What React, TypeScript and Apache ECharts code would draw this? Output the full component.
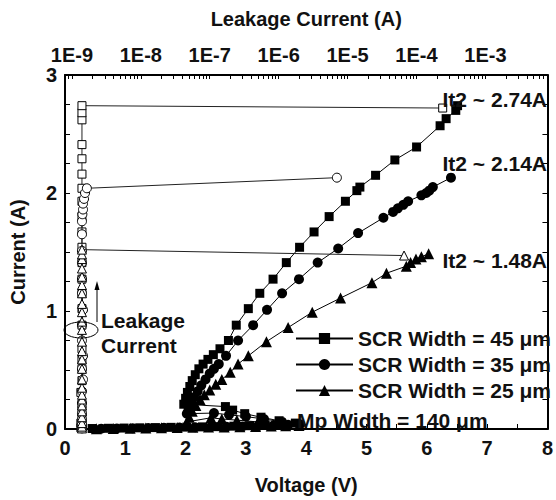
import React, { useEffect, useRef } from "react";
import * as echarts from "echarts";

// ---------- tick labels ----------
const voltageTicks = [0, 1, 2, 3, 4, 5, 6, 7, 8];
const currentTicks = [0, 1, 2, 3];
const leakageExponents = [-9, -8, -7, -6, -5, -4, -3];

// ---------- series names ----------
const seriesNames = ["SCR Width = 45 μm", "SCR Width = 35 μm", "SCR Width = 25 μm"];

// ---------- TLP I-V: SCR Width = 45 um ----------
const scr45Voltage = [
  0.45, 0.72, 0.98, 1.24, 1.5, 1.76, 2.02, 2.28, 2.54, 2.8, 3.06, 3.32, 3.58, 3.82,
  3.55, 3.25, 2.98, 2.78, 2.66,
  1.97, 2.0, 2.03, 2.07, 2.11, 2.16, 2.22, 2.29, 2.37, 2.46, 2.57, 2.71, 2.84, 3.04,
  3.23, 3.45, 3.67, 3.89, 4.13, 4.38, 4.65, 4.84, 4.89, 5.15, 5.47, 5.83, 6.22, 6.32,
  6.48, 6.51,
];
const scr45Current = [
  0.004, 0.006, 0.008, 0.01, 0.012, 0.014, 0.016, 0.018, 0.02, 0.024, 0.028, 0.034, 0.04, 0.05,
  0.07, 0.1, 0.13, 0.16, 0.19,
  0.21, 0.26, 0.31, 0.36, 0.41, 0.46, 0.51, 0.55, 0.59, 0.63, 0.68, 0.75, 0.88, 1.02,
  1.15, 1.27, 1.41, 1.54, 1.67, 1.8, 1.93, 2.02, 2.05, 2.15, 2.28, 2.39, 2.57, 2.63,
  2.7, 2.74,
];

// ---------- TLP I-V: SCR Width = 35 um ----------
const scr35Voltage = [
  0.6, 0.86, 1.12, 1.38, 1.64, 1.9, 2.16, 2.42, 2.68, 2.94, 3.2, 3.46, 3.7, 3.9,
  3.6, 3.3, 3.0, 2.72, 2.47,
  2.02, 2.05, 2.09, 2.14, 2.2, 2.26, 2.33, 2.4, 2.47, 2.55, 2.67, 2.87, 3.12, 3.35,
  3.6, 3.88, 4.19, 4.53, 4.86, 5.28, 5.44, 5.52, 5.61, 5.69, 5.91, 5.99, 6.04, 6.1,
  6.4,
];
const scr35Current = [
  0.003, 0.005, 0.007, 0.009, 0.011, 0.013, 0.015, 0.017, 0.019, 0.022, 0.025, 0.03, 0.035, 0.04,
  0.06, 0.085, 0.105, 0.12, 0.135,
  0.13, 0.17, 0.22, 0.27, 0.32, 0.37, 0.42, 0.47, 0.51, 0.55, 0.62, 0.75, 0.88, 1.01,
  1.15, 1.27, 1.41, 1.53, 1.66, 1.79, 1.84, 1.87, 1.9, 1.93, 1.98, 2.0, 2.02, 2.05,
  2.13,
];

// ---------- TLP I-V: SCR Width = 25 um ----------
const scr25Voltage = [
  0.52, 0.8, 1.08, 1.34, 1.6, 1.86, 2.12, 2.38, 2.64, 2.9, 3.16, 3.42, 3.66, 3.88,
  3.55, 3.2, 2.85, 2.6, 2.42,
  2.02, 2.06, 2.11, 2.17, 2.24, 2.31, 2.4, 2.5, 2.6, 2.74, 2.87, 3.04, 3.34, 3.7,
  4.1, 4.57, 5.09, 5.33, 5.66, 5.73, 5.82, 5.91, 6.03,
];
const scr25Current = [
  0.002, 0.004, 0.006, 0.008, 0.01, 0.012, 0.014, 0.016, 0.018, 0.02, 0.022, 0.025, 0.028, 0.03,
  0.045, 0.06, 0.075, 0.085, 0.095,
  0.06, 0.1, 0.15, 0.2, 0.25, 0.29, 0.33, 0.38, 0.42, 0.48, 0.55, 0.62, 0.74, 0.86,
  0.99, 1.11, 1.24, 1.32, 1.38, 1.41, 1.44, 1.46, 1.485,
];

// ---------- Leakage (A) vs current: SCR Width = 45 um ----------
const leak45Current = [
  0.005, 0.01, 0.02, 0.03, 0.05, 0.1, 0.16, 0.21, 0.31, 0.41, 0.51, 0.59, 0.68, 0.88, 1.02,
  1.15, 1.27, 1.41, 1.54, 1.67, 1.8, 1.93, 2.04, 2.16, 2.29, 2.41, 2.62, 2.68, 2.74, 2.72,
];
const leak45Value = [
  1.4e-9, 1.35e-9, 1.4e-9, 1.4e-9, 1.35e-9, 1.4e-9, 1.4e-9, 1.4e-9, 1.35e-9, 1.4e-9, 1.4e-9,
  1.4e-9, 1.4e-9, 1.4e-9, 1.4e-9, 1.4e-9, 1.4e-9, 1.4e-9, 1.4e-9, 1.4e-9, 1.4e-9, 1.4e-9,
  1.4e-9, 1.4e-9, 1.4e-9, 1.4e-9, 1.4e-9, 1.4e-9, 1.4e-9, 2.4e-4,
];

// ---------- Leakage (A) vs current: SCR Width = 35 um ----------
const leak35Current = [
  0.005, 0.02, 0.04, 0.08, 0.13, 0.22, 0.32, 0.42, 0.51, 0.62, 0.75, 0.88, 1.01, 1.15, 1.27,
  1.41, 1.51, 1.65, 1.76, 1.82, 1.86, 1.91, 1.95, 2.0, 2.04, 2.13,
];
const leak35Value = [
  1.4e-9, 1.4e-9, 1.4e-9, 1.4e-9, 1.4e-9, 1.4e-9, 1.4e-9, 1.45e-9, 1.4e-9, 1.45e-9, 1.4e-9,
  1.4e-9, 1.45e-9, 1.4e-9, 1.4e-9, 1.4e-9, 1.4e-9, 1.4e-9, 1.4e-9, 1.42e-9, 1.45e-9, 1.45e-9,
  1.5e-9, 1.55e-9, 1.65e-9, 7.0e-6,
];

// ---------- Leakage (A) vs current: SCR Width = 25 um ----------
const leak25Current = [
  0.005, 0.02, 0.05, 0.1, 0.15, 0.2, 0.25, 0.29, 0.35, 0.42, 0.51, 0.59, 0.66, 0.74, 0.84,
  0.91, 0.99, 1.06, 1.15, 1.22, 1.29, 1.36, 1.44, 1.48, 1.52, 1.47,
];
const leak25Value = [
  1.4e-9, 1.4e-9, 1.4e-9, 1.4e-9, 1.4e-9, 1.4e-9, 1.4e-9, 1.4e-9, 1.4e-9, 1.4e-9, 1.4e-9,
  1.4e-9, 1.4e-9, 1.4e-9, 1.4e-9, 1.4e-9, 1.4e-9, 1.4e-9, 1.4e-9, 1.4e-9, 1.4e-9, 1.4e-9,
  1.4e-9, 1.4e-9, 1.4e-9, 6.6e-5,
];

// ---------- annotation texts ----------
const it2Labels = ["It2 ~ 2.74A", "It2 ~ 2.14A", "It2 ~ 1.48A"];
const mpLabel = "Mp Width = 140 μm";
const leakNoteLines = ["Leakage", "Current"];

const FONT = '"Liberation Sans", Arial, Helvetica, sans-serif';
const INK = "#111";

function pairs(xs: number[], ys: number[]) {
  return xs.map((x, i) => [x, ys[i]]);
}
function logPairs(leak: number[], cur: number[]) {
  return leak.map((l, i) => [Math.log10(l), cur[i]]);
}

function buildTopTicks(min: number, max: number) {
  const out: number[] = [];
  for (let d = -10; d <= -2; d++) {
    for (let k = 1; k <= 9; k++) {
      const v = d + Math.log10(k);
      if (v >= min && v <= max) out.push(v);
    }
  }
  return out;
}

export default function App() {
  const ref = useRef<HTMLDivElement>(null);
  useEffect(() => {
    if (!ref.current) return;
    const chart = echarts.init(ref.current, undefined, { renderer: "svg" });
    const topMin = -9.1;
    const topMax = -2.1;
    const lineStyle = { color: "#000", width: 1 };
    const tickLabel = { fontFamily: FONT, fontWeight: "bold" as const, fontSize: 20, color: INK };
    const nameStyle = { fontFamily: FONT, fontWeight: "bold" as const, fontSize: 20, color: INK };
    const frame = { show: true, onZero: false, lineStyle: { color: "#000", width: 2 } };
    const textEl = (text: string, x: number, y: number, align: string) => ({
      type: "text",
      x,
      y,
      z: 50,
      style: {
        text,
        font: `bold 21px ${FONT}`,
        fill: INK,
        align,
        textAlign: align,
        verticalAlign: "middle",
        textVerticalAlign: "middle",
      },
    });
    const filled = (name: string, symbol: string, size: number, data: number[][]) => ({
      name,
      type: "line",
      xAxisIndex: 0,
      yAxisIndex: 0,
      data,
      symbol,
      symbolSize: size,
      showAllSymbol: true,
      lineStyle,
      itemStyle: { color: "#000" },
      z: 5,
    });
    const open = (id: string, symbol: string, size: number, data: number[][], z: number) => ({
      id,
      type: "line",
      xAxisIndex: 1,
      yAxisIndex: 0,
      data,
      symbol,
      symbolSize: size,
      showAllSymbol: true,
      lineStyle: { color: "#222", width: 1 },
      itemStyle: { color: "#fff", borderColor: "#000", borderWidth: 1 },
      z,
    });

    chart.setOption({
      animation: false,
      backgroundColor: "#fff",
      grid: { left: 63, right: 6, top: 75, bottom: 62 },
      legend: {
        data: seriesNames,
        orient: "vertical",
        left: 295,
        top: 328,
        itemWidth: 57,
        itemHeight: 14,
        itemGap: 5,
        padding: 0,
        selectedMode: false,
        textStyle: { fontFamily: FONT, fontWeight: "bold", fontSize: 21, color: INK },
      },
      xAxis: [
        {
          type: "value",
          position: "bottom",
          min: voltageTicks[0],
          max: voltageTicks[voltageTicks.length - 1],
          interval: 1,
          axisLine: frame,
          axisTick: { show: true, inside: true, length: 5, lineStyle },
          minorTick: { show: true, splitNumber: 2, length: 5, lineStyle },
          axisLabel: { ...tickLabel, margin: 9 },
          splitLine: { show: false },
          name: "Voltage (V)",
          nameLocation: "middle",
          nameGap: 46,
          nameTextStyle: nameStyle,
        },
        {
          type: "value",
          position: "top",
          min: topMin,
          max: topMax,
          axisLine: frame,
          axisTick: {
            show: true,
            inside: true,
            length: 4,
            customValues: buildTopTicks(topMin, topMax),
            lineStyle,
          },
          axisLabel: {
            ...tickLabel,
            margin: 10,
            customValues: leakageExponents,
            formatter: (v: number) => `1E${Math.round(v)}`,
          },
          splitLine: { show: false },
          name: "Leakage Current (A)",
          nameLocation: "middle",
          nameGap: 46,
          nameTextStyle: nameStyle,
        },
      ],
      yAxis: [
        {
          type: "value",
          position: "left",
          min: currentTicks[0],
          max: currentTicks[currentTicks.length - 1],
          interval: 1,
          axisLine: frame,
          axisTick: { show: true, inside: true, length: 5, lineStyle },
          minorTick: { show: true, splitNumber: 4, length: 5, lineStyle },
          axisLabel: { ...tickLabel, margin: 8 },
          splitLine: { show: false },
          name: "Current (A)",
          nameLocation: "middle",
          nameGap: 37,
          nameTextStyle: nameStyle,
        },
        {
          type: "value",
          position: "right",
          min: currentTicks[0],
          max: currentTicks[currentTicks.length - 1],
          interval: 1,
          axisLine: frame,
          axisTick: { show: true, inside: true, length: 5, lineStyle },
          minorTick: { show: true, splitNumber: 4, length: 5, lineStyle },
          axisLabel: { show: false },
          splitLine: { show: false },
        },
      ],
      series: [
        filled(seriesNames[0], "rect", 9, pairs(scr45Voltage, scr45Current)),
        filled(seriesNames[1], "circle", 10, pairs(scr35Voltage, scr35Current)),
        filled(seriesNames[2], "triangle", 11, pairs(scr25Voltage, scr25Current)),
        open("leak45", "rect", 8, logPairs(leak45Value, leak45Current), 6),
        open("leak35", "circle", 9, logPairs(leak35Value, leak35Current), 7),
        open("leak25", "triangle", 9, logPairs(leak25Value, leak25Current), 8),
      ],
      graphic: [
        textEl(it2Labels[0], 547, 99, "right"),
        textEl(it2Labels[1], 547, 163, "right"),
        textEl(it2Labels[2], 547, 260, "right"),
        textEl(mpLabel, 297, 420, "left"),
        textEl(leakNoteLines[0], 101, 320, "left"),
        textEl(leakNoteLines[1], 101, 345, "left"),
        {
          type: "ellipse",
          z: 50,
          shape: { cx: 81, cy: 330, rx: 17, ry: 8 },
          style: { fill: "none", stroke: "#000", lineWidth: 1 },
        },
        {
          type: "line",
          z: 50,
          shape: { x1: 97, y1: 322, x2: 97, y2: 288 },
          style: { stroke: "#000", lineWidth: 1 },
        },
        {
          type: "polygon",
          z: 50,
          shape: { points: [[97, 281], [94.5, 290], [99.5, 290]] },
          style: { fill: "#000" },
        },
      ],
    });
    return () => chart.dispose();
  }, []);
  return (
    <div
      ref={ref}
      style={{ position: "absolute", left: 0, top: 0, width: 556, height: 500, background: "#fff" }}
    />
  );
}
